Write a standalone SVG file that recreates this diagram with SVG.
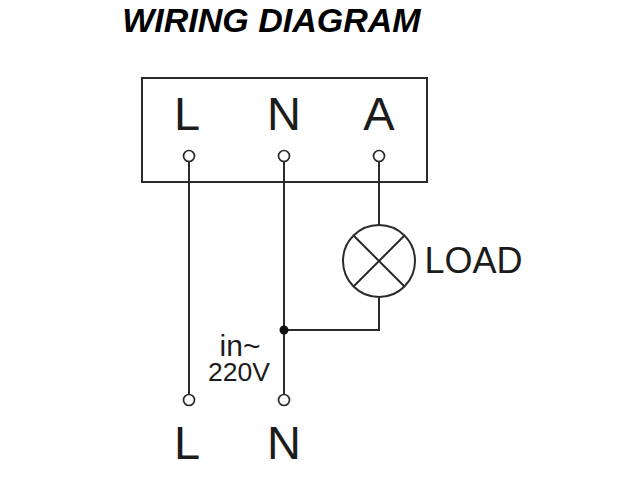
<svg xmlns="http://www.w3.org/2000/svg" width="640" height="480" viewBox="0 0 640 480">
<style>
text{font-family:"Liberation Sans",Arial,sans-serif;fill:#1c1c1c;text-anchor:middle}
.w{fill:none;stroke:#2a2a2a;stroke-width:2}
.t{fill:#fff;stroke:#2a2a2a;stroke-width:1.7}
.b{font-size:47px}
</style>
<rect width="640" height="480" fill="#fff"/>
<text id="title" x="271.500" y="32" style="font-size:34px;font-weight:bold;font-style:italic;fill:#000">WIRING DIAGRAM</text>
<g id="connectors">
<path class="w" d="M189 157V400M284 157V400M379 157V225M379 297V330H284"/>
<circle cx="284" cy="330" r="4.500" fill="#111"/>
</g>
<g id="terminal-block"><rect class="w" x="142" y="78" width="285" height="104"/>
<text class="b" x="187" y="130">L</text><text class="b" x="284" y="130">N</text><text class="b" x="379" y="130">A</text></g>
<g id="t-L"><circle class="t" cx="189" cy="156" r="5.500"/></g>
<g id="t-N"><circle class="t" cx="284" cy="156" r="5.500"/></g>
<g id="t-A"><circle class="t" cx="379" cy="156" r="5.500"/></g>
<g id="load"><circle class="w" cx="379" cy="261" r="36"/><path class="w" d="M353.500 235.500L404.500 286.500M404.500 235.500L353.500 286.500"/>
<text x="473.500" y="273" style="font-size:36px">LOAD</text></g>
<g id="input"><text x="240" y="356" style="font-size:30px">in~</text><text x="239" y="381" style="font-size:26.500px">220V</text></g>
<g id="out-L"><circle class="t" cx="189" cy="400" r="5.500"/><text class="b" x="187" y="459">L</text></g>
<g id="out-N"><circle class="t" cx="284" cy="400" r="5.500"/><text class="b" x="284" y="459">N</text></g>
</svg>
